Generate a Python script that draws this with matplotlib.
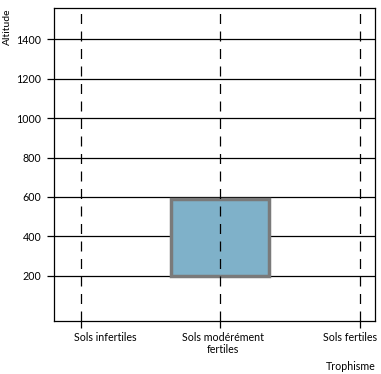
import matplotlib
matplotlib.use('Agg')
import matplotlib.pyplot as plt
from matplotlib.patches import Rectangle

categories = ['Sols infertiles', 'Sols modérément\nfertiles', 'Sols fertiles']
cat_pos = [0, 1, 2]
label_pos = [0.18, 1.02, 1.93]
y_ticks = [200, 400, 600, 800, 1000, 1200, 1400]
# range occupied: (category index, altitude low, altitude high)
box_cat = 1
box_low = 200
box_high = 590
box_halfwidth = 0.35

plt.rcParams['font.family'] = ['Lato', 'DejaVu Sans']

fig = plt.figure(figsize=(3.81, 3.74), dpi=100)
ax = fig.add_axes([54 / 381, 53 / 374, 321 / 381, 313 / 374])

ax.set_xlim(-0.19, 2.105)
ax.set_ylim(-30, 1560)

for y in y_ticks:
    ax.axhline(y, color='black', lw=0.9, zorder=1)

ax.add_patch(Rectangle((box_cat - box_halfwidth, box_low), 2 * box_halfwidth,
                       box_high - box_low, facecolor='#7fb1c9',
                       edgecolor='#7a7a7a', lw=2.5, zorder=2))

for x in cat_pos:
    ax.axvline(x, color='black', lw=0.9, ls=(0, (8, 6)), zorder=3)

ax.set_yticks(y_ticks)
ax.set_yticklabels([str(v) for v in y_ticks], fontsize=7.7)
ax.set_xticks(cat_pos)
ax.set_xticklabels([])
ax.tick_params(axis='both', direction='out', length=5, width=0.9, color='black', pad=4)

trans = ax.get_xaxis_transform()
for lx, lab in zip(label_pos, categories):
    ax.text(lx, -0.035, lab, transform=trans, ha='center', va='top',
            fontsize=7.7, linespacing=1.15)

for s in ax.spines.values():
    s.set_linewidth(0.9)

fig.text(3 / 381, 1 - 45 / 374, 'Altitude', rotation=90, fontsize=7.5,
         ha='left', va='bottom')
fig.text(376 / 381, 1 - 367 / 374, 'Trophisme', fontsize=7.7, ha='right', va='center')

fig.savefig('out.png', dpi=100)
